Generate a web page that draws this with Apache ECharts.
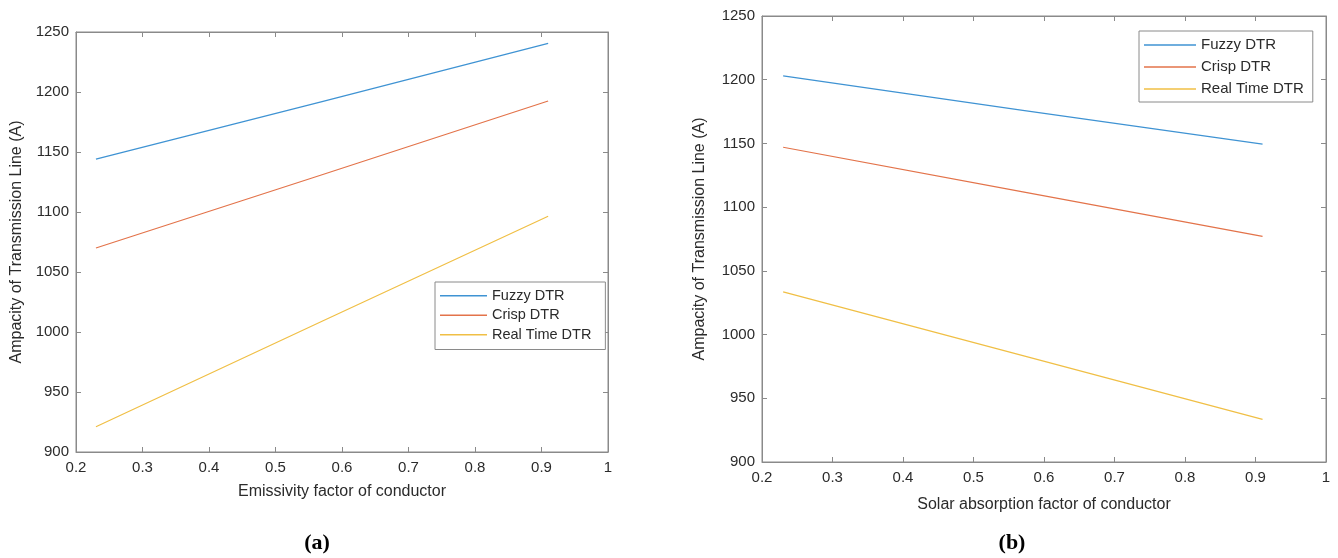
<!DOCTYPE html>
<html>
<head>
<meta charset="utf-8">
<script src="https://cdn.jsdelivr.net/npm/echarts@6/dist/echarts.min.js"></script>
<style>
html,body{margin:0;padding:0;background:#fff;}
#c{width:1338px;height:558px;}
</style>
</head>
<body>
<div id="c"></div>
<script>
// ---- data ----
const seriesNames = ['Fuzzy DTR', 'Crisp DTR', 'Real Time DTR'];
// (a) Emissivity factor
const emissivity = [0.23, 0.57, 0.91];
const fuzzyA = [1144, 1192, 1240.5];
const crispA = [1070, 1131, 1192.5];
const realA  = [921, 1009, 1096.5];
// (b) Solar absorption factor
const absorption = [0.23, 0.57, 0.91];
const fuzzyB = [1203, 1176, 1149.5];
const crispB = [1147, 1112, 1077];
const realB  = [1033.5, 983.5, 933.5];
// axis ranges / tick labels
const xMin = 0.2, xMax = 1, xStep = 0.1;
const yMin = 900, yMax = 1250, yStep = 50;
const xNameA = 'Emissivity factor of conductor';
const xNameB = 'Solar absorption factor of conductor';
const yName = 'Ampacity of Transmission Line (A)';
const captions = ['(a)', '(b)'];

const colors = ['#3f93d3', '#e3734a', '#f0bf45'];
const axisCol = '#8a8a8a';
const textCol = '#2b2b2b';
const font = 'Liberation Sans, Arial, sans-serif';

function pairs(xs, ys){ return xs.map((x,i)=>[x, ys[i]]); }

const chart = echarts.init(document.getElementById('c'), null, {renderer:'canvas'});

const grids = [
  {left:76, top:32, width:532, height:420, show:true, borderColor:axisCol, borderWidth:1, backgroundColor:'#fff'},
  {left:762, top:16, width:564, height:446, show:true, borderColor:axisCol, borderWidth:1, backgroundColor:'#fff'}
];

function xAxisMain(gi, name, gap){
  return {
    type:'value', gridIndex:gi, min:xMin, max:xMax, interval:xStep,
    name:name, nameLocation:'middle', nameGap:gap,
    nameTextStyle:{fontFamily:font, fontSize:16, color:textCol},
    axisLine:{show:true, lineStyle:{color:axisCol, width:1}},
    axisTick:{show:true, inside:true, length:5, lineStyle:{color:axisCol}},
    axisLabel:{fontFamily:font, fontSize:15, color:textCol, margin:8,
      formatter:v=>String(Math.round(v*10)/10)},
    splitLine:{show:false}
  };
}
function xAxisTop(gi){
  return {
    type:'value', gridIndex:gi, position:'top', min:xMin, max:xMax, interval:xStep,
    axisLine:{show:true, lineStyle:{color:axisCol, width:1}},
    axisTick:{show:true, inside:true, length:5, lineStyle:{color:axisCol}},
    axisLabel:{show:false}, splitLine:{show:false}
  };
}
function yAxisMain(gi, gap){
  return {
    type:'value', gridIndex:gi, min:yMin, max:yMax, interval:yStep,
    name:yName, nameLocation:'middle', nameGap:gap,
    nameTextStyle:{fontFamily:font, fontSize:16, color:textCol},
    axisLine:{show:true, lineStyle:{color:axisCol, width:1}},
    axisTick:{show:true, inside:true, length:5, lineStyle:{color:axisCol}},
    axisLabel:{fontFamily:font, fontSize:15, color:textCol, margin:7,
      formatter:v=>String(v)},
    splitLine:{show:false}
  };
}
function yAxisRight(gi){
  return {
    type:'value', gridIndex:gi, position:'right', min:yMin, max:yMax, interval:yStep,
    axisLine:{show:true, lineStyle:{color:axisCol, width:1}},
    axisTick:{show:true, inside:true, length:5, lineStyle:{color:axisCol}},
    axisLabel:{show:false}, splitLine:{show:false}
  };
}

function line(name, data, xi, yi, ci){
  return {
    type:'line', name:name, xAxisIndex:xi, yAxisIndex:yi, data:data,
    symbol:'none', showSymbol:false, smooth:false, animation:false,
    lineStyle:{color:colors[ci], width:1.2}, itemStyle:{color:colors[ci]}
  };
}

const legendCommon = {
  orient:'vertical', data:seriesNames, backgroundColor:'#fff',
  borderColor:axisCol, borderWidth:1, borderRadius:0,
  icon:'rect', itemHeight:1.3, selectedMode:false,
  itemStyle:{borderWidth:0}
};

const option = {
  backgroundColor:'#ffffff',
  animation:false,
  grid:grids,
  xAxis:[xAxisMain(0, xNameA, 32), xAxisMain(1, xNameB, 35), xAxisTop(0), xAxisTop(1)],
  yAxis:[yAxisMain(0, 51), yAxisMain(1, 54), yAxisRight(0), yAxisRight(1)],
  legend:[
    Object.assign({}, legendCommon, {left:435, top:282, itemWidth:47, itemGap:0,
      padding:[4,14,5,5], textStyle:{fontFamily:font, fontSize:14.5, lineHeight:19.5, color:textCol}}),
    Object.assign({}, legendCommon, {left:1139, top:31, itemWidth:52, itemGap:0,
      padding:[3,9,2,5], textStyle:{fontFamily:font, fontSize:15, lineHeight:22, color:textCol}})
  ],
  title:[
    {text:captions[0], left:312, top:527, textAlign:'center',
      textStyle:{fontFamily:'Liberation Serif, DejaVu Serif, serif', fontWeight:'bold', fontSize:22, color:'#000'}},
    {text:captions[1], left:1007, top:527, textAlign:'center',
      textStyle:{fontFamily:'Liberation Serif, DejaVu Serif, serif', fontWeight:'bold', fontSize:22, color:'#000'}}
  ],
  series:[
    line(seriesNames[0], pairs(emissivity, fuzzyA), 0, 0, 0),
    line(seriesNames[1], pairs(emissivity, crispA), 0, 0, 1),
    line(seriesNames[2], pairs(emissivity, realA), 0, 0, 2),
    line(seriesNames[0], pairs(absorption, fuzzyB), 1, 1, 0),
    line(seriesNames[1], pairs(absorption, crispB), 1, 1, 1),
    line(seriesNames[2], pairs(absorption, realB), 1, 1, 2)
  ]
};
chart.setOption(option);
</script>
</body>
</html>
